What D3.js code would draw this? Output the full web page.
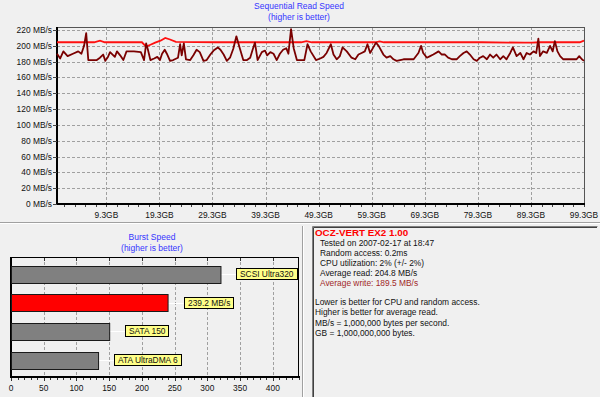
<!DOCTYPE html>
<html lang="en">
<head>
  <meta charset="UTF-8">
  <title>HD Tune - OCZ-VERT EX2</title>
  <script src="https://d3js.org/d3.v7.min.js"></script>
  <style>
    html, body { margin: 0; padding: 0; background: #f0f0f0; }
    svg { display: block; font-family: "Liberation Sans", Arial, sans-serif; }
    .grid { stroke: #a0a0a0; stroke-width: 1px; stroke-dasharray: 3,2; shape-rendering: crispEdges; }
    .lbl { font-size: 8.4px; fill: #111; }
    .title { font-size: 8.5px; fill: #3535ff; text-anchor: middle; }
  </style>
</head>
<body>
  <div id="chart"></div>
  <script>
    // Sequential read plot (GB position -> MB/s)
    const readGB  = [0, 7, 8.1, 9, 16, 16.8, 17.5, 18.5, 19.5, 20.4, 21.3, 22.4, 30, 40, 46, 47, 48, 55, 60, 60.8, 61.6, 70, 80, 88, 89.5, 91, 98.5, 99.3];
    const readMBs = [204.5, 204.5, 206.5, 204.5, 204.5, 199, 201, 204, 206.5, 210, 208, 205, 204.5, 204.5, 204.5, 206, 204.5, 204.5, 204.5, 205.5, 204.5, 204.5, 204.5, 204, 204, 204.5, 204.5, 206.5];

    const writeGB = [0, 0.6, 1.2, 2, 3, 4, 4.6, 5.1, 5.5, 5.9, 7.5, 8.1, 8.7, 9.1, 9.6, 10, 10.9, 11.3, 11.9, 12.5,
      13.1, 14.5, 15.8, 16.4, 16.8, 17.1, 17.6, 18.3, 18.9, 19.4, 19.8, 20.3, 20.7, 21.3, 21.9, 22.8, 23.2, 23.5, 23.9, 24.3,
      25.1, 25.7, 26.3, 26.9, 27.6, 28.2, 28.9, 29.5, 30.3, 30.8, 31.4, 32, 32.6, 33.2, 33.8, 34.4, 35.1, 35.8, 36.4, 36.9,
      37.3, 37.8, 38.6, 39.2, 39.6, 40.2, 40.8, 41.4, 42, 42.6, 43.2, 43.6, 44.1, 44.6, 45.2, 46.6, 47.2, 47.8, 48.8, 49.6,
      50.2, 50.8, 51.6, 52.1, 52.7, 53.3, 53.8, 54.6, 55.5, 56.2, 56.8, 57.4, 58, 58.5, 59, 59.6, 60.1, 60.6, 61.5, 62.1,
      62.8, 63.4, 64, 65.3, 67.2, 68.1, 68.6, 69, 69.7, 70.3, 70.9, 71.9, 72.5, 73.1, 73.7, 74.4, 75.3, 75.9, 76.6, 77.2,
      77.8, 78.5, 79.1, 79.7, 80.3, 81, 81.6, 82.2, 82.8, 83.5, 84.1, 84.7, 85.4, 85.9, 86.6, 87.3, 87.9, 88.5, 89.1, 89.8,
      90.3, 90.7, 91, 91.6, 92.3, 92.9, 93.4, 93.8, 94.3, 94.8, 95.4, 97.3, 97.9, 98.4, 98.9, 99.3];
    const writeMBs = [190, 184, 193, 187, 190, 193, 190, 200, 216, 182, 182, 185, 189, 181, 186, 192, 186, 193, 188, 182,
      193, 193, 192, 182, 203, 196, 182, 184, 186, 182, 190, 195, 190, 181, 182, 185, 202, 188, 203, 183,
      182, 188, 195, 192, 181, 182, 189, 194, 198, 195, 189, 181, 185, 196, 212, 198, 182, 182, 185, 196,
      204, 182, 192, 194, 188, 192, 190, 182, 190, 195, 197, 190, 221, 197, 182, 182, 202, 193, 182, 184,
      186, 191, 202, 189, 183, 187, 198, 193, 185, 183, 189, 191, 193, 202, 191, 198, 204, 200, 189, 185,
      187, 183, 181, 183, 183, 191, 200, 191, 185, 187, 189, 193, 189, 189, 185, 183, 183, 187, 191, 193,
      189, 183, 181, 185, 187, 183, 189, 185, 189, 183, 187, 183, 191, 198, 187, 191, 183, 191, 189, 193,
      191, 209, 187, 193, 191, 200, 193, 206, 193, 187, 183, 183, 183, 187, 183, 181];

    const yTicks = [0, 20, 40, 60, 80, 100, 120, 140, 160, 180, 200, 220];
    const xTicks = [9.3, 19.3, 29.3, 39.3, 49.3, 59.3, 69.3, 79.3, 89.3, 99.3];

    // Burst speed bars
    const burstNames  = ["SCSI Ultra320", "OCZ-VERT EX2", "SATA 150", "ATA UltraDMA 6"];
    const burstValues = [320, 239.2, 150, 133];
    const burstLabels = ["SCSI Ultra320", "239.2 MB/s", "SATA 150", "ATA UltraDMA 6"];
    const burstTicks  = [0, 50, 100, 150, 200, 250, 300, 350, 400];

    const infoTitle = "OCZ-VERT EX2 1.00";
    const infoLines = ["Tested on 2007-02-17 at 18:47", "Random access: 0.2ms", "CPU utilization: 2% (+/- 2%)",
      "Average read: 204.8 MB/s", "Average write: 189.5 MB/s"];
    const noteLines = ["Lower is better for CPU and random access.", "Higher is better for average read.",
      "MB/s = 1,000,000 bytes per second.", "GB = 1,000,000,000 bytes."];

    const svg = d3.select("#chart")
      .append("svg")
      .attr("width", 600)
      .attr("height", 397);

    svg.append("rect").attr("width", 600).attr("height", 397).attr("fill", "#f0f0f0");

    // ---------- top chart ----------
    const x = d3.scaleLinear().domain([0, 99.3]).range([57, 584]);
    const y = d3.scaleLinear().domain([0, 223.8]).range([204, 27]);

    svg.append("text").attr("class", "title").attr("x", 299).attr("y", 9).text("Sequential Read Speed");
    svg.append("text").attr("class", "title").attr("x", 299).attr("y", 19.5).text("(higher is better)");

    svg.append("g").selectAll("line")
      .data(yTicks.filter(d => d > 0))
      .enter().append("line")
      .attr("class", "grid")
      .attr("x1", x(0)).attr("x2", x(99.3))
      .attr("y1", d => Math.round(y(d)) + 0.5).attr("y2", d => Math.round(y(d)) + 0.5);

    svg.append("g").selectAll("line")
      .data(xTicks.slice(0, -1))
      .enter().append("line")
      .attr("class", "grid")
      .attr("x1", d => Math.round(x(d)) + 0.5).attr("x2", d => Math.round(x(d)) + 0.5)
      .attr("y1", y.range()[1]).attr("y2", y(0));

    // frame
    svg.append("path")
      .attr("d", `M${x(0)},${y.range()[1] + 0.5}H${x(99.3) + 0.5}V${y(0)}`)
      .attr("fill", "none").attr("stroke", "#555").attr("shape-rendering", "crispEdges");
    svg.append("path")
      .attr("d", `M${x(0)},${y.range()[1]}V${y(0)}H${x(99.3) + 1}`)
      .attr("fill", "none").attr("stroke", "#000").attr("stroke-width", 2).attr("shape-rendering", "crispEdges");

    // y labels + ticks
    svg.append("g").selectAll("text")
      .data(yTicks)
      .enter().append("text")
      .attr("class", "lbl")
      .attr("x", 52).attr("y", d => y(d) + 3)
      .attr("text-anchor", "end")
      .text(d => d + " MB/s");
    svg.append("g").selectAll("line")
      .data(yTicks)
      .enter().append("line")
      .attr("x1", 53).attr("x2", 57)
      .attr("y1", d => Math.round(y(d)) + 0.5).attr("y2", d => Math.round(y(d)) + 0.5)
      .attr("stroke", "#444");

    // x labels + minor ticks
    svg.append("g").selectAll("text")
      .data(xTicks)
      .enter().append("text")
      .attr("class", "lbl")
      .attr("x", d => x(d)).attr("y", 218)
      .attr("text-anchor", "middle")
      .text(d => d + "GB");
    svg.append("g").selectAll("line")
      .data(d3.range(1.3, 99.4, 2))
      .enter().append("line")
      .attr("x1", d => Math.round(x(d)) + 0.5).attr("x2", d => Math.round(x(d)) + 0.5)
      .attr("y1", 205).attr("y2", 207)
      .attr("stroke", "#444");

    const readLine = d3.line().x((d, i) => x(readGB[i])).y(d => y(d));
    const writeLine = d3.line().x((d, i) => x(writeGB[i])).y(d => y(d));

    svg.append("path")
      .datum(readMBs)
      .attr("d", readLine)
      .attr("fill", "none").attr("stroke", "#ff1010").attr("stroke-width", 1.8);
    svg.append("path")
      .datum(writeMBs)
      .attr("d", writeLine)
      .attr("fill", "none").attr("stroke", "#7a0000").attr("stroke-width", 1.8)
      .attr("stroke-linejoin", "round");

    // separator
    svg.append("line").attr("x1", 0).attr("x2", 600).attr("y1", 222.5).attr("y2", 222.5).attr("stroke", "#a0a0a0");
    svg.append("line").attr("x1", 0).attr("x2", 600).attr("y1", 223.5).attr("y2", 223.5).attr("stroke", "#fff");
    svg.append("line").attr("x1", 302.5).attr("x2", 302.5).attr("y1", 226).attr("y2", 397).attr("stroke", "#a0a0a0");
    svg.append("line").attr("x1", 303.5).attr("x2", 303.5).attr("y1", 226).attr("y2", 397).attr("stroke", "#fff");

    // ---------- burst chart ----------
    const bx = d3.scaleLinear().domain([0, 440]).range([11, 299]);
    const by = d3.scaleBand().domain(burstNames).range([257, 377]).paddingInner(0.42).paddingOuter(0.3);

    svg.append("text").attr("class", "title").attr("x", 152).attr("y", 240).text("Burst Speed");
    svg.append("text").attr("class", "title").attr("x", 152).attr("y", 251).text("(higher is better)");

    svg.append("g").selectAll("line")
      .data(burstTicks.slice(1))
      .enter().append("line")
      .attr("class", "grid")
      .attr("x1", d => Math.round(bx(d)) + 0.5).attr("x2", d => Math.round(bx(d)) + 0.5)
      .attr("y1", 257).attr("y2", 377);

    svg.append("rect")
      .attr("x", 11.5).attr("y", 257.5).attr("width", 287).attr("height", 119)
      .attr("fill", "none").attr("stroke", "#000");
    svg.append("line").attr("x1", 11).attr("x2", 300).attr("y1", 377).attr("y2", 377)
      .attr("stroke", "#000").attr("stroke-width", 2);
    svg.append("line").attr("x1", 11).attr("x2", 11).attr("y1", 257).attr("y2", 378)
      .attr("stroke", "#000").attr("stroke-width", 2);

    svg.append("g").selectAll("line")
      .data(d3.range(0, 441, 10))
      .enter().append("line")
      .attr("x1", d => Math.round(bx(d)) + 0.5).attr("x2", d => Math.round(bx(d)) + 0.5)
      .attr("y1", 378).attr("y2", d => d % 50 === 0 ? 381 : 380)
      .attr("stroke", "#333");
    svg.append("g").selectAll("line")
      .data(burstTicks.slice(1))
      .enter().append("line")
      .attr("x1", d => Math.round(bx(d)) + 0.5).attr("x2", d => Math.round(bx(d)) + 0.5)
      .attr("y1", 258).attr("y2", 261)
      .attr("stroke", "#333");

    svg.append("g").selectAll("text")
      .data(burstTicks)
      .enter().append("text")
      .attr("class", "lbl")
      .attr("x", d => bx(d)).attr("y", 391)
      .attr("text-anchor", "middle")
      .text(d => d);

    const bars = svg.append("g").selectAll("g")
      .data(burstNames)
      .enter().append("g");

    bars.append("line")
      .attr("x1", (d, i) => bx(burstValues[i]))
      .attr("x2", (d, i) => bx(burstValues[i]) + 16)
      .attr("y1", d => Math.round(by(d) + by.bandwidth() / 2) + 0.5)
      .attr("y2", d => Math.round(by(d) + by.bandwidth() / 2) + 0.5)
      .attr("stroke", "#fff");

    bars.append("rect")
      .attr("x", bx(0) + 0.5)
      .attr("y", d => Math.round(by(d)) + 0.5)
      .attr("width", (d, i) => bx(burstValues[i]) - bx(0))
      .attr("height", Math.round(by.bandwidth()))
      .attr("fill", (d, i) => i === 1 ? "#ff0000" : "#808080")
      .attr("stroke", "#1a1a1a");

    bars.each(function(d, i) {
      const g = d3.select(this);
      const cy = Math.round(by(d) + by.bandwidth() / 2);
      const lx = Math.round(bx(burstValues[i]) + 16);
      const box = g.append("rect")
        .attr("x", lx + 0.5).attr("y", cy - 5.5)
        .attr("height", 11)
        .attr("fill", "#ffff88").attr("stroke", "#000");
      const t = g.append("text")
        .attr("class", "lbl")
        .attr("x", lx + 4).attr("y", cy + 3)
        .text(burstLabels[i]);
      box.attr("width", Math.round(t.node().getComputedTextLength()) + 7);
    });

    // ---------- info panel ----------
    svg.append("path")
      .attr("d", "M312.5,397V226.5H597.5")
      .attr("fill", "none").attr("stroke", "#808080");
    svg.append("path")
      .attr("d", "M313.5,397V227.5H597")
      .attr("fill", "none").attr("stroke", "#404040");

    svg.append("text")
      .attr("x", 315).attr("y", 235.5)
      .attr("font-size", "9.8px").attr("font-weight", "bold").attr("fill", "#ff0000")
      .text(infoTitle);

    svg.append("g").selectAll("text")
      .data(infoLines)
      .enter().append("text")
      .attr("class", "lbl")
      .attr("x", 320).attr("y", (d, i) => 246 + i * 9.9)
      .style("fill", (d, i) => i === 4 ? "#a02828" : null)
      .text(d => d);

    svg.append("g").selectAll("text")
      .data(noteLines)
      .enter().append("text")
      .attr("class", "lbl")
      .attr("x", 315).attr("y", (d, i) => 305 + i * 10.3)
      .text(d => d);
  </script>
</body>
</html>
